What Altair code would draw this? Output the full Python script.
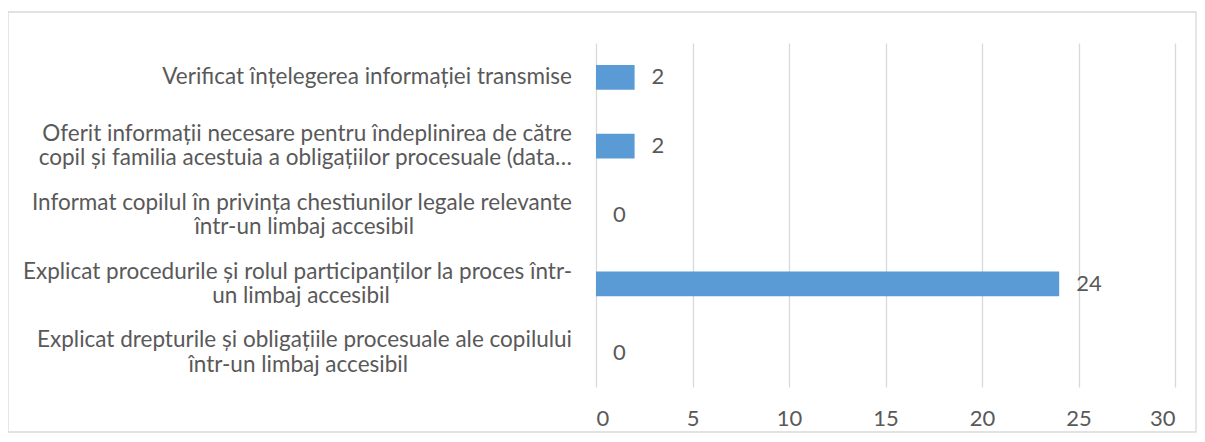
import altair as alt
import pandas as pd

# Categories (top to bottom), split into display lines
line1 = [
    "Verificat înțelegerea informației transmise",
    "Oferit informații necesare pentru îndeplinirea de către",
    "Informat copilul în privința chestiunilor legale relevante",
    "Explicat procedurile și rolul participanților la proces într-",
    "Explicat drepturile și obligațiile procesuale ale copilului",
]
line2 = [
    "",
    "copil și familia acestuia a obligațiilor procesuale (data…",
    "într-un limbaj accesibil",
    "un limbaj accesibil",
    "într-un limbaj accesibil",
]
values = [2, 2, 0, 24, 0]
x_ticks = [0, 5, 10, 15, 20, 25, 30]

df = pd.DataFrame({
    "key": [f"c{i}" for i in range(len(values))],
    "l1": line1,
    "l2": line2,
    "value": values,
})
order = list(df["key"])

FONT = "Lato"
FS = 22.5      # category labels
FS_NUM = 22    # tick and value labels
TXT = "#595959"
W, H = 579, 344
LH = 24.5
NARROW = 0.27 * FS  # approx glyph width of narrow letters
WIDE = 0.54 * FS    # approx glyph width of other letters
NARROW_RE = "[iljîtfrțI \\-.,()]"

y_enc = alt.Y("key:N", sort=order, axis=None,
              scale=alt.Scale(paddingInner=0.64, paddingOuter=0.32))

base = alt.Chart(df)

border = base.mark_rect(fill=None, stroke="#D9D9D9", strokeWidth=1.3, clip=False).encode(
    x=alt.value(-588), x2=alt.value(600), y=alt.value(-31), y2=alt.value(389)
).transform_filter("datum.key == 'c0'")

bars = base.mark_bar(color="#5B9BD5", cornerRadius=0).encode(
    x=alt.X("value:Q", scale=alt.Scale(domain=[0, 30], nice=False),
            axis=alt.Axis(values=x_ticks, title=None, domain=False, ticks=False,
                          grid=True, gridColor="#D9D9D9", gridWidth=1.3,
                          labelFont=FONT, labelFontSize=FS_NUM, labelColor=TXT,
                          labelPadding=31, labelBaseline="middle")),
    y=y_enc,
)

vlabels = base.mark_text(align="left", baseline="middle", dx=17,
                         font=FONT, fontSize=FS_NUM, color=TXT).encode(
    x="value:Q", y=y_enc, text="value:Q"
)

def est_width(field):
    n = f"length(datum.{field})"
    nn = f"({n} - length(replace(datum.{field}, regexp('{NARROW_RE}', 'g'), '')))"
    return f"{nn} * {NARROW} + ({n} - {nn}) * {WIDE}"

calc = base.transform_calculate(
    w1=est_width("l1"),
    w2=est_width("l2"),
).transform_calculate(
    wmax="max(datum.w1, datum.w2)",
).transform_calculate(
    # right edge of each line so that clearly shorter lines are centred on the widest one
    x1="(datum.wmax - datum.w1) > 0.1 * datum.wmax ? -24 - (datum.wmax - datum.w1) / 2 : -24",
    x2="(datum.wmax - datum.w2) > 0.1 * datum.wmax ? -24 - (datum.wmax - datum.w2) / 2 : -24",
)

ident = alt.Scale(domain=[0, W], nice=False, zero=False)

def line_layer(text_field, x_field, dy, flt):
    return calc.transform_filter(flt).mark_text(
        align="right", baseline="middle", dy=dy,
        font=FONT, fontSize=FS, color=TXT
    ).encode(
        x=alt.X(f"{x_field}:Q", scale=ident, axis=None), y=y_enc, text=f"{text_field}:N"
    )

single = line_layer("l1", "x1", 0, "datum.l2 == ''")
first = line_layer("l1", "x1", -LH / 2, "datum.l2 != ''")
second = line_layer("l2", "x2", LH / 2, "datum.l2 != ''")

main = alt.layer(border, bars, vlabels)
labels = alt.layer(single, first, second)

chart = alt.layer(main, labels).resolve_scale(x="independent").properties(
    width=W, height=H,
    autosize=alt.AutoSizeParams(type="none"),
    padding={"left": 588, "top": 35, "right": 22, "bottom": 46},
    background="white",
).configure_view(stroke=None)

chart.save("out.html", embed_options={"renderer": "svg", "actions": False})
